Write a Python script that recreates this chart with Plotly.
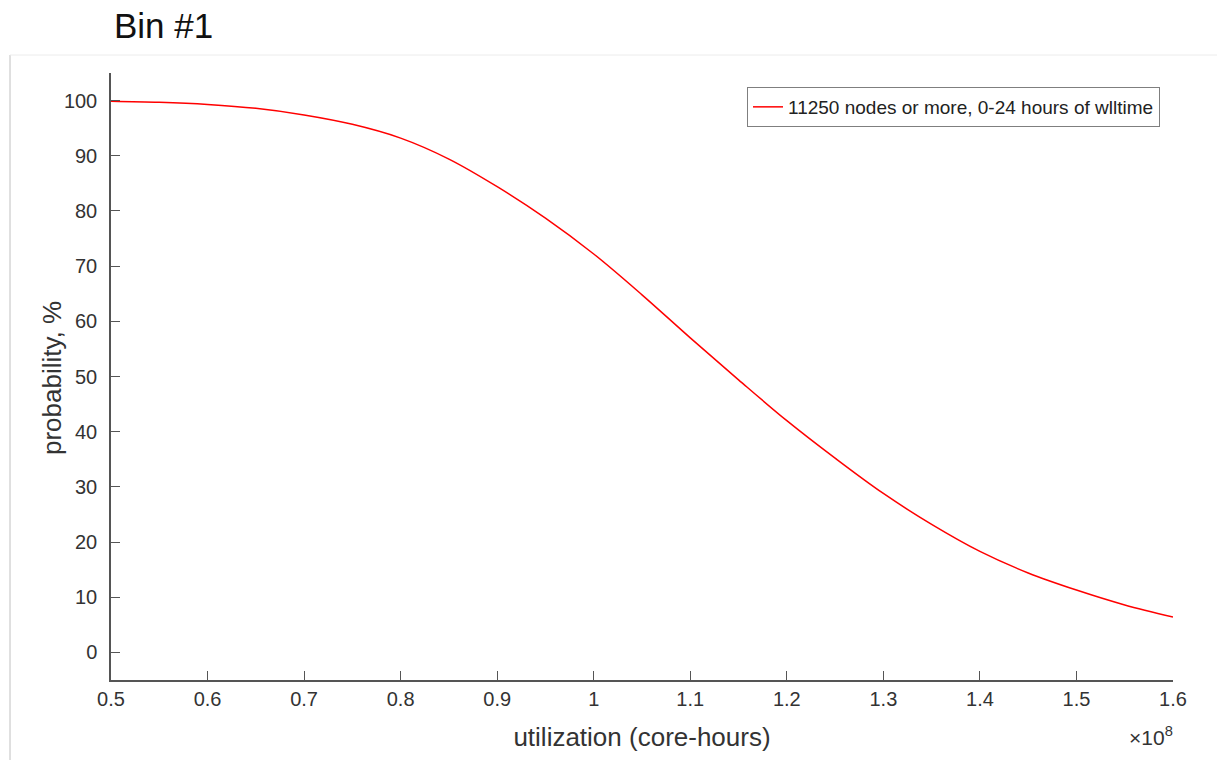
import plotly.graph_objects as go

# Data
utilization = [0.50, 0.55, 0.60, 0.65, 0.70, 0.75, 0.80, 0.85, 0.90, 0.95,
               1.00, 1.05, 1.10, 1.15, 1.20, 1.25, 1.30, 1.35, 1.40, 1.45,
               1.50, 1.55, 1.60]
probability = [99.9, 99.7, 99.3, 98.6, 97.4, 95.7, 93.2, 89.4, 84.4, 78.7,
               72.2, 64.8, 57.0, 49.4, 42.0, 35.2, 28.8, 23.2, 18.3, 14.4,
               11.3, 8.6, 6.4]
x_tickvals = [0.5, 0.6, 0.7, 0.8, 0.9, 1.0, 1.1, 1.2, 1.3, 1.4, 1.5, 1.6]
x_ticktext = ["0.5", "0.6", "0.7", "0.8", "0.9", "1", "1.1", "1.2", "1.3", "1.4", "1.5", "1.6"]
y_tickvals = [0, 10, 20, 30, 40, 50, 60, 70, 80, 90, 100]
series_name = "11250 nodes or more, 0-24 hours of wlltime"

W, H = 1217, 760
L, R, T, B = 111, 44, 73, 80
pw, ph = W - L - R, H - T - B

def px_x(x):
    return (x - L) / pw

def px_y(y):
    return (H - B - y) / ph

FONT = "Liberation Sans, Arial, Helvetica, sans-serif"
TXT = "#333333"
AX = "#555555"

fig = go.Figure()
fig.add_trace(go.Scatter(
    x=utilization, y=probability, mode="lines", name=series_name,
    line=dict(color="#ff0000", width=1.5, shape="spline", smoothing=1.0),
))

fig.update_layout(
    width=W, height=H,
    margin=dict(l=L, r=R, t=T, b=B, autoexpand=False),
    paper_bgcolor="white", plot_bgcolor="white",
    font=dict(family=FONT, color=TXT, size=20),
    showlegend=True,
    legend=dict(
        x=px_x(1160), y=px_y(87), xanchor="right", yanchor="top",
        bordercolor="#7f7f7f", borderwidth=1, bgcolor="white",
        font=dict(size=19, color="#222222", family=FONT),
        itemwidth=30, tracegroupgap=0,
    ),
    xaxis=dict(
        range=[0.5, 1.6], tickvals=x_tickvals, ticktext=x_ticktext,
        ticks="inside", ticklen=9, tickcolor=AX, tickwidth=1,
        showline=True, linecolor=AX, linewidth=1.5, showgrid=False, zeroline=False,
        tickfont=dict(size=20, color=TXT), ticklabelstandoff=0,
        title=dict(text="utilization (core-hours)", font=dict(size=26, color=TXT), standoff=19),
    ),
    yaxis=dict(
        range=[-5, 105], tickvals=y_tickvals,
        ticks="inside", ticklen=9, tickcolor=AX, tickwidth=1,
        showline=True, linecolor=AX, linewidth=1.5, showgrid=False, zeroline=False,
        tickfont=dict(size=20, color=TXT), ticklabelstandoff=8,
    ),
    shapes=[
        dict(type="line", xref="paper", yref="paper",
             x0=px_x(10), x1=px_x(10), y0=px_y(55), y1=px_y(H),
             line=dict(color="#c0c0c0", width=1)),
        dict(type="line", xref="paper", yref="paper",
             x0=px_x(10), x1=px_x(W), y0=px_y(55), y1=px_y(55),
             line=dict(color="#ececec", width=1)),
    ],
    annotations=[
        dict(text="Bin #1", xref="paper", yref="paper", x=px_x(112), y=px_y(25),
             xanchor="left", yanchor="middle", showarrow=False,
             font=dict(size=35, color="#111111", family=FONT)),
        dict(text="probability, %", xref="paper", yref="paper", x=px_x(52), y=px_y(378),
             xanchor="center", yanchor="middle", showarrow=False, textangle=-90,
             font=dict(size=26, color=TXT, family=FONT)),
        dict(text="×10<sup>8</sup>", xref="paper", yref="paper", x=px_x(1175), y=px_y(736),
             xanchor="right", yanchor="middle", showarrow=False,
             font=dict(size=21, color=TXT, family=FONT)),
    ],
)

fig.write_html("out.html")
